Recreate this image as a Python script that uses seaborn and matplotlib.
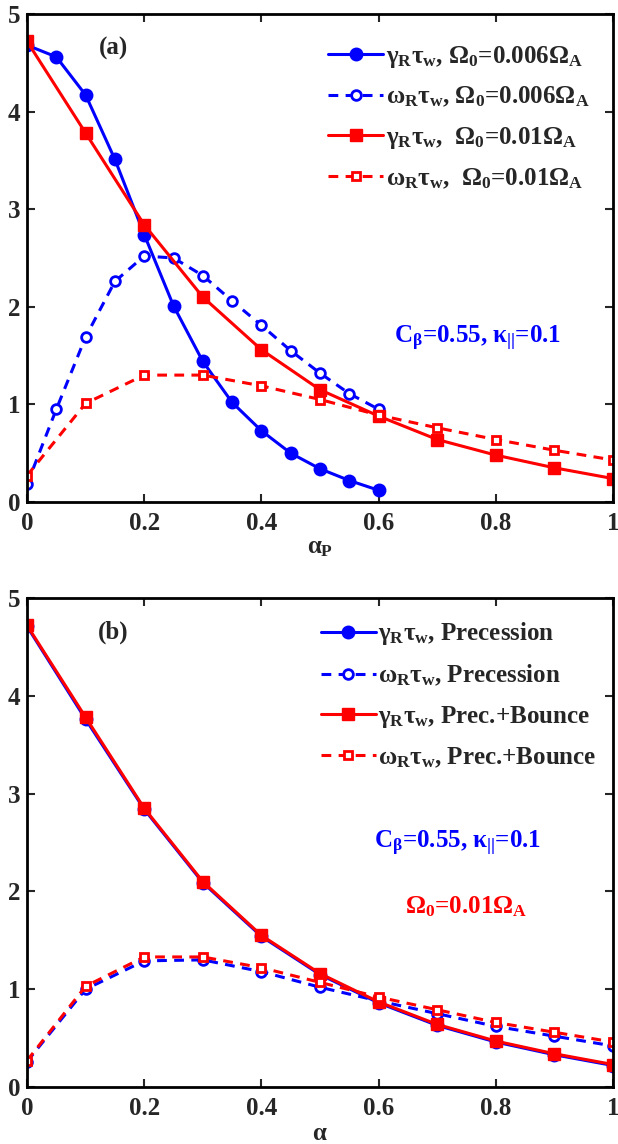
import matplotlib
matplotlib.use("Agg")
import matplotlib.pyplot as plt
import seaborn as sns
import pandas as pd

# ---------------- data ----------------
alpha_fine = [0.0, 0.05, 0.1, 0.15, 0.2, 0.25, 0.3, 0.35, 0.4, 0.45, 0.5, 0.55, 0.6]
gamma_a_006 = [4.68, 4.56, 4.17, 3.51, 2.74, 2.01, 1.44, 1.02, 0.73, 0.50, 0.34, 0.22, 0.12]
omega_a_006 = [0.18, 0.95, 1.69, 2.26, 2.52, 2.50, 2.32, 2.06, 1.81, 1.55, 1.32, 1.11, 0.95]

alpha_coarse = [0.0, 0.1, 0.2, 0.3, 0.4, 0.5, 0.6, 0.7, 0.8, 0.9, 1.0]
gamma_a_01 = [4.72, 3.78, 2.84, 2.10, 1.56, 1.15, 0.88, 0.64, 0.48, 0.35, 0.24]
omega_a_01 = [0.27, 1.01, 1.30, 1.30, 1.19, 1.05, 0.89, 0.76, 0.64, 0.53, 0.43]

gamma_b_prec = [4.71, 3.76, 2.84, 2.09, 1.54, 1.15, 0.86, 0.63, 0.46, 0.33, 0.22]
omega_b_prec = [0.26, 1.00, 1.29, 1.30, 1.18, 1.02, 0.88, 0.75, 0.62, 0.52, 0.42]
gamma_b_pb = [4.72, 3.78, 2.85, 2.10, 1.55, 1.16, 0.87, 0.64, 0.47, 0.34, 0.23]
omega_b_pb = [0.27, 1.03, 1.33, 1.33, 1.22, 1.07, 0.92, 0.79, 0.66, 0.56, 0.46]

x_ticks = [0, 0.2, 0.4, 0.6, 0.8, 1.0]
x_tick_labels = ["0", "0.2", "0.4", "0.6", "0.8", "1"]
y_ticks = [0, 1, 2, 3, 4, 5]

legend_a = [r"$\gamma_{\mathbf{R}}\tau_{\mathbf{w}}$, $\Omega_{\mathbf{0}}$=0.006$\Omega_{\mathbf{A}}$",
            r"$\omega_{\mathbf{R}}\tau_{\mathbf{w}}$, $\Omega_{\mathbf{0}}$=0.006$\Omega_{\mathbf{A}}$",
            r"$\gamma_{\mathbf{R}}\tau_{\mathbf{w}}$,  $\Omega_{\mathbf{0}}$=0.01$\Omega_{\mathbf{A}}$",
            r"$\omega_{\mathbf{R}}\tau_{\mathbf{w}}$,  $\Omega_{\mathbf{0}}$=0.01$\Omega_{\mathbf{A}}$"]
legend_b = [r"$\gamma_{\mathbf{R}}\tau_{\mathbf{w}}$, Precession",
            r"$\omega_{\mathbf{R}}\tau_{\mathbf{w}}$, Precession",
            r"$\gamma_{\mathbf{R}}\tau_{\mathbf{w}}$, Prec.+Bounce",
            r"$\omega_{\mathbf{R}}\tau_{\mathbf{w}}$, Prec.+Bounce"]

# ---------------- style ----------------
sns.set_style("ticks")
plt.rcParams["font.family"] = ["Liberation Serif", "DejaVu Serif"]
plt.rcParams["font.weight"] = "bold"
plt.rcParams["mathtext.fontset"] = "custom"
plt.rcParams["mathtext.rm"] = "Liberation Serif:bold"
plt.rcParams["mathtext.it"] = "Liberation Serif"
plt.rcParams["mathtext.bf"] = "Liberation Serif:bold"
plt.rcParams["mathtext.default"] = "it"

BLUE = (0, 0, 1)
RED = (1, 0, 0)
FS = 18
LW = 2.2
DASH = (0, (3.2, 2.4))

fig = plt.figure(figsize=(6.18, 11.44), dpi=100)
axA = fig.add_axes([0.0437, 0.5612, 0.9483, 0.4266])
axB = fig.add_axes([0.0437, 0.0498, 0.9483, 0.4275])


def series(ax, x, y, color, filled, marker, ls, label):
    df = pd.DataFrame({"x": x, "y": y})
    kw = dict(color=color, marker=marker, linestyle=ls, linewidth=LW,
              markeredgecolor=color, label=label)
    if filled:
        kw.update(markerfacecolor=color, markersize=9 if marker == "o" else 8,
                  markeredgewidth=1)
    else:
        kw.update(markerfacecolor="white", markersize=7 if marker == "o" else 6,
                  markeredgewidth=2)
    sns.lineplot(data=df, x="x", y="y", ax=ax, errorbar=None, sort=False, **kw)


series(axA, alpha_fine, gamma_a_006, BLUE, True, "o", "-", legend_a[0])
series(axA, alpha_fine, omega_a_006, BLUE, False, "o", DASH, legend_a[1])
series(axA, alpha_coarse, gamma_a_01, RED, True, "s", "-", legend_a[2])
series(axA, alpha_coarse, omega_a_01, RED, False, "s", DASH, legend_a[3])

series(axB, alpha_coarse, gamma_b_prec, BLUE, True, "o", "-", legend_b[0])
series(axB, alpha_coarse, omega_b_prec, BLUE, False, "o", DASH, legend_b[1])
series(axB, alpha_coarse, gamma_b_pb, RED, True, "s", "-", legend_b[2])
series(axB, alpha_coarse, omega_b_pb, RED, False, "s", DASH, legend_b[3])

anchors = {axA: (0.985, 0.970), axB: (0.998, 0.985)}
for ax in (axA, axB):
    ax.set_xlim(0, 1)
    ax.set_ylim(0, 5)
    ax.set_xticks(x_ticks)
    ax.set_xticklabels(x_tick_labels)
    ax.set_yticks(y_ticks)
    ax.tick_params(direction="in", length=6, width=1.5, top=True, right=True,
                   labelsize=FS)
    ax.tick_params(axis="x", pad=7)
    ax.tick_params(axis="y", pad=5)
    for lab in ax.get_xticklabels() + ax.get_yticklabels():
        lab.set_fontweight("bold")
    for sp in ax.spines.values():
        sp.set_linewidth(2)
        sp.set_color("black")
        sp.set_visible(True)
    ax.set_ylabel("")
    leg = ax.legend(loc="upper right", bbox_to_anchor=anchors[ax], frameon=False,
                    fontsize=FS, handlelength=2.2, handletextpad=0.1,
                    labelspacing=0.62, borderaxespad=0.2)
    for t in leg.get_texts():
        t.set_fontweight("bold")

axA.set_xlabel(r"$\alpha_{\mathbf{P}}$", fontsize=FS, labelpad=2)
axB.set_xlabel(r"$\alpha$", fontsize=FS, labelpad=2)

axA.text(0.147, 4.65, "(a)", fontsize=FS, fontweight="bold", ha="center", va="center")
axB.text(0.147, 4.65, "(b)", fontsize=FS, fontweight="bold", ha="center", va="center")
axA.text(0.768, 1.68, r"C$_{\mathbf{\beta}}$=0.55, $\kappa_{\mathbf{||}}$=0.1", color=BLUE, fontsize=FS,
         fontweight="bold", ha="center", va="center")
axB.text(0.734, 2.49, r"C$_{\mathbf{\beta}}$=0.55, $\kappa_{\mathbf{||}}$=0.1", color=BLUE, fontsize=FS,
         fontweight="bold", ha="center", va="center")
axB.text(0.75, 1.84, r"$\mathbf{\Omega}_{\mathbf{0}}$=0.01$\mathbf{\Omega}_{\mathbf{A}}$", color=RED, fontsize=FS,
         fontweight="bold", ha="center", va="center")

fig.savefig("out.png", dpi=100)
